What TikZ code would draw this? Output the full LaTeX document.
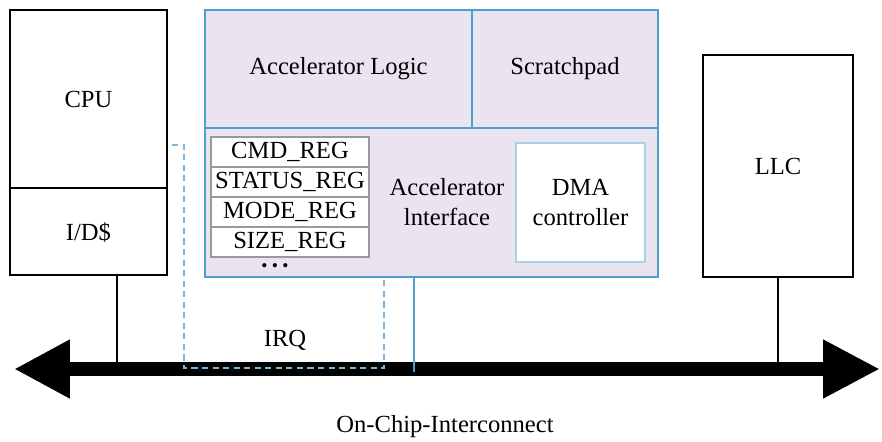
\documentclass[tikz,border=0pt]{standalone}
\usepackage{fontspec}
\setmainfont{LiberationSerif}[Extension=.ttf, UprightFont=*-Regular, BoldFont=*-Bold, ItalicFont=*-Italic]
\usetikzlibrary{arrows.meta}
\definecolor{accfill}{HTML}{E9E4F0}
\definecolor{accblue}{HTML}{4F9FD0}
\definecolor{dmablue}{HTML}{A8D0EA}
\definecolor{reggrey}{HTML}{9A9A9A}

\begin{document}
\begin{tikzpicture}[x=0.02cm, y=-0.02cm, font=\rmfamily\fontsize{14}{17}\selectfont,
  hostbox/.style={draw=black, line width=0.8pt, fill=white, minimum width=3.14cm},
  accbox/.style={draw=accblue, line width=1pt, fill=accfill},
  regbox/.style={draw=reggrey, line width=1pt, fill=white, inner sep=1pt, minimum width=3.16cm, minimum height=0.6cm},
  dmabox/.style={draw=dmablue, line width=1pt, fill=white, align=center, minimum width=2.58cm, minimum height=2.38cm},
  bus/.style={line width=0.28cm, {Triangle[length=1.12cm,width=1.1cm]}-{Triangle[length=1.14cm,width=1.1cm]}},
  hostline/.style={draw=black, line width=0.8pt},
  accline/.style={draw=accblue, line width=1pt},
  irqline/.style={draw=accblue!75!white, line width=1pt, dash pattern=on 3.5pt off 2.5pt}]
\useasboundingbox (0,0) rectangle (882,441);

\node [hostbox, minimum height=3.56cm] (cpu) at (88.5,99) {CPU};
\node [hostbox, minimum height=1.74cm, text depth=-0.3cm] (cache) at (88.5,231.5) {I/D\$};

\node [accbox, minimum width=5.34cm, minimum height=2.36cm] (logic) at (338.5,69) {Accelerator Logic};
\node [accbox, minimum width=3.72cm, minimum height=2.36cm] (spad) at (565,69) {Scratchpad};
\node [accbox, minimum width=9.06cm, minimum height=2.98cm] (intf) at (431.5,202.5) {};
\node [align=center] (intflabel) at (447,202) {Accelerator\\lnterface};

\node [regbox] (cmdreg) at (290,152) {CMD\_REG};
\node [regbox] (statusreg) at (290,182) {STATUS\_REG};
\node [regbox] (modereg) at (290,212) {MODE\_REG};
\node [regbox] (sizereg) at (290,242) {SIZE\_REG};
\node [font=\fontsize{10}{10}\selectfont] (regdots) at (275,268) {\textbullet\ \textbullet\ \textbullet};

\node [dmabox] (dma) at (580.5,202.5) {DMA\\controller};
\node [hostbox, minimum width=3cm, minimum height=4.44cm] (llc) at (778,166) {LLC};

\coordinate (busL) at (14,369);
\coordinate (busR) at (880,369);
\draw [bus] (busL) -- (busR);

\coordinate (cpubus) at (117,369);
\coordinate (accbus) at (414,372);
\coordinate (irqA) at (172,145);
\coordinate (irqB) at (184,368);
\coordinate (irqC) at (384,368);

\draw [hostline] (cpubus |- cache.south) -- (cpubus);
\draw [hostline] (llc.south) -- (llc.south |- busR);
\draw [accline] (accbus |- intf.south) -- (accbus);
\draw [irqline] (irqA) -| (irqB) -- (irqC) -- (irqC |- intf.south);

\node (irq) at (285,340) {IRQ};
\node (buslabel) at (445,427) {On-Chip-Interconnect};
\end{tikzpicture}
\end{document}
